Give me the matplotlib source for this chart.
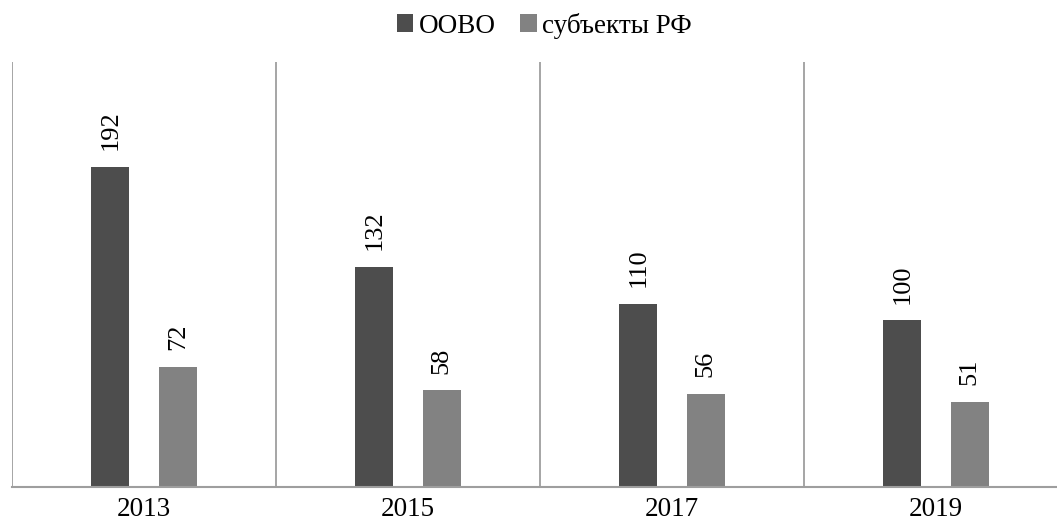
import numpy as np
import matplotlib.pyplot as plt

years = ['2013', '2015', '2017', '2019']
oovo = [192, 132, 110, 100]
subjects = [72, 58, 56, 51]

plt.rcParams['font.family'] = ['Liberation Serif', 'DejaVu Serif']

fig = plt.figure(figsize=(10.57, 5.26), dpi=100)
# the plot area runs a bit past the right edge of the picture
ax = fig.add_axes([0.0114, 0.0741, 0.999, 0.808])

x = np.arange(len(years))
w = 0.145
off = 0.128
b1 = ax.bar(x - off, oovo, w, color='#4d4d4d', label='ООВО')
b2 = ax.bar(x + off, subjects, w, color='#828282', label='субъекты РФ')

for bars in (b1, b2):
    for r in bars:
        ax.annotate(str(int(r.get_height())), (r.get_x() + r.get_width() / 2, r.get_height()),
                    xytext=(0, 12), textcoords='offset points', rotation=90,
                    ha='center', va='bottom', fontsize=19)

# separators between categories
for s in np.arange(-0.5, len(years) - 1, 1.0):
    ax.axvline(s, color='#9e9e9e', lw=1.3)

ax.set_xlim(-0.5, len(years) - 0.5)
ax.set_ylim(0, 255)
ax.set_xticks(x)
ax.set_xticklabels(years, fontsize=19.5)
ax.tick_params(axis='x', length=0, pad=7)
ax.set_yticks([])
for sp in ['top', 'right', 'left']:
    ax.spines[sp].set_visible(False)
ax.spines['bottom'].set_color('#9e9e9e')
ax.spines['bottom'].set_linewidth(1.5)

fig.legend(loc='upper center', bbox_to_anchor=(0.515, 1.022), ncol=2, frameon=False,
           fontsize=19.5, handlelength=0.62, handleheight=0.62, handletextpad=0.2,
           columnspacing=0.9)

fig.savefig('out.png', dpi=100)
